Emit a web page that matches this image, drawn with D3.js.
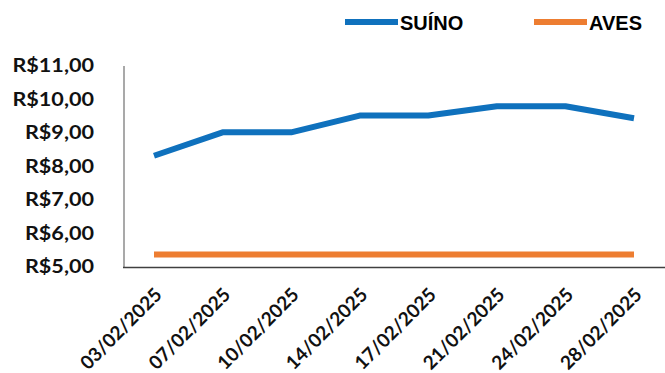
<!DOCTYPE html>
<html>
<head>
	<script src='https://d3js.org/d3.v7.min.js'></script>
	<style type="text/css">
		body { margin: 0; background: #fff; }
		.ylab, .xlab { font-family: Lato, 'Open Sans', sans-serif; font-weight: bold; fill: #111; }
		.leg { font-family: 'Liberation Sans', Arial, sans-serif; font-weight: bold; fill: #000; }
	</style>
</head>
<body>
	<script type="text/javascript">
		var dates = ['03/02/2025', '07/02/2025', '10/02/2025', '14/02/2025',
			'17/02/2025', '21/02/2025', '24/02/2025', '28/02/2025'];
		var suino = [8.32, 9.02, 9.02, 9.52, 9.52, 9.8, 9.8, 9.44];
		var aves = [5.37, 5.37, 5.37, 5.37, 5.37, 5.37, 5.37, 5.37];
		var yTicks = [5, 6, 7, 8, 9, 10, 11];

		var series = [
			{name: 'SUÍNO', values: suino, color: '#0F71BD'},
			{name: 'AVES', values: aves, color: '#ED7D31'}
		];

		var dim = { w: 665, h: 373 };

		var svg = d3.select('body')
			.append('svg')
				.attr('width', dim.w)
				.attr('height', dim.h);

		var x = d3.scalePoint()
				.domain(dates)
				.range([154, 634]),
			y = d3.scaleLinear()
				.domain([5, 11])
				.range([267, 66]);

		/** Axes **/
		svg.append('line')
			.attr('x1', 124).attr('x2', 124)
			.attr('y1', y(11)).attr('y2', y(5))
			.attr('stroke', '#8c8c8c').attr('stroke-width', 1.5);

		svg.append('line')
			.attr('x1', 123).attr('x2', dim.w)
			.attr('y1', y(5) + 0.5).attr('y2', y(5) + 0.5)
			.attr('stroke', '#404040').attr('stroke-width', 1.5);

		svg.selectAll('.ylab')
			.data(yTicks).enter()
			.append('text')
				.attr('class', 'ylab')
				.attr('transform', function(d) { return 'translate(94,' + y(d) + ') scale(1.2,1)'; })
				.attr('dy', '0.36em')
				.attr('text-anchor', 'end')
				.style('font-size', '18px')
				.text(function(d) { return 'R$' + d + ',00'; });

		svg.selectAll('.xlab')
			.data(dates).enter()
			.append('text')
				.attr('class', 'xlab')
				.attr('text-anchor', 'end')
				.attr('transform', function(d) {
					return 'translate(' + (x(d) + 9) + ',' + 296 + ') rotate(-45)';
				})
				.style('font-size', '19px')
				.text(function(d) { return d; });

		// Lines
		var line = d3.line()
			.x(function(d, i) { return x(dates[i]); })
			.y(function(d) { return y(d); });

		svg.selectAll('.series')
			.data(series).enter()
			.append('path')
				.attr('class', 'series')
				.attr('d', function(d) { return line(d.values); })
				.attr('fill', 'none')
				.attr('stroke', function(d) { return d.color; })
				.attr('stroke-width', 6)
				.attr('stroke-linejoin', 'round');

		// Legend
		var leg = svg.selectAll('.legitem')
			.data(series).enter()
			.append('g')
				.attr('class', 'legitem')
				.attr('transform', function(d, i) { return 'translate(' + (345 + i * 189) + ',22)'; });

		leg.append('line')
			.attr('x1', 0).attr('x2', 53)
			.attr('stroke', function(d) { return d.color; })
			.attr('stroke-width', 6);

		leg.append('text')
			.attr('class', 'leg')
			.attr('x', 55)
			.attr('y', 8)
			.style('font-size', '20px')
			.text(function(d) { return d.name; });
	</script>
</body>
</html>
